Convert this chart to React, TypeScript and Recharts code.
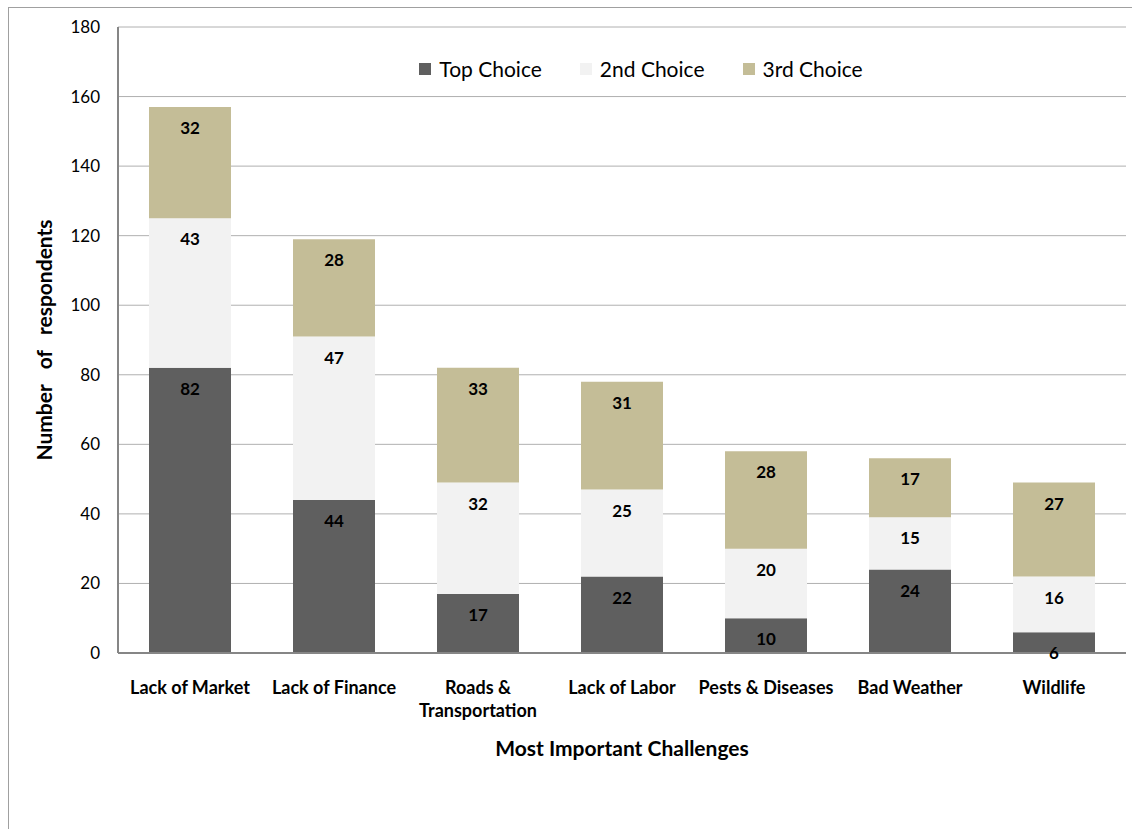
import { BarChart, Bar, XAxis, YAxis, CartesianGrid, Legend, LabelList } from "recharts";

const categories = [
  "Lack of Market",
  "Lack of Finance",
  "Roads & Transportation",
  "Lack of Labor",
  "Pests & Diseases",
  "Bad Weather",
  "Wildlife",
];
const topChoice = [82, 44, 17, 22, 10, 24, 6];
const secondChoice = [43, 47, 32, 25, 20, 15, 16];
const thirdChoice = [32, 28, 33, 31, 28, 17, 27];
const yTicks = [0, 20, 40, 60, 80, 100, 120, 140, 160, 180];

const series = [
  { key: "top", name: "Top Choice", color: "#5f5f5f" },
  { key: "second", name: "2nd Choice", color: "#f2f2f2" },
  { key: "third", name: "3rd Choice", color: "#c4bd97" },
];

const data = categories.map((name, i) => ({
  name,
  top: topChoice[i],
  second: secondChoice[i],
  third: thirdChoice[i],
}));

const FONT = "Lato, 'Open Sans', sans-serif";

// two-line label for "Roads & Transportation", single line otherwise
function CategoryTick(props: any) {
  const { x, y, payload } = props;
  const lines =
    payload.value === "Roads & Transportation" ? ["Roads &", "Transportation"] : [payload.value];
  return (
    <text x={x} y={y} textAnchor="middle" fontFamily={FONT} fontSize={18} fontWeight="bold" fill="#000">
      {lines.map((l, i) => (
        <tspan key={i} x={x} dy={i === 0 ? 33 : 23}>
          {l}
        </tspan>
      ))}
    </text>
  );
}

function LegendBox() {
  return (
    <div style={{ display: "flex", justifyContent: "center", gap: 38, fontFamily: FONT, fontSize: 21, color: "#000" }}>
      {series.map((s) => (
        <div key={s.key} style={{ display: "flex", alignItems: "center" }}>
          <span style={{ width: 12, height: 12, background: s.color, marginRight: 8, display: "inline-block" }} />
          <span>{s.name}</span>
        </div>
      ))}
    </div>
  );
}

export default function App() {
  return (
    <div
      style={{
        position: "absolute",
        left: 8,
        top: 7,
        width: 1123,
        height: 821,
        borderTop: "1px solid #a0a0a0",
        borderLeft: "1px solid #a0a0a0",
        overflow: "hidden",
        background: "#fff",
      }}
    >
      <BarChart
        width={1123}
        height={821}
        data={data}
        margin={{ top: 19, right: 6, bottom: 0, left: 0 }}
        style={{ fontFamily: FONT }}
      >
        <CartesianGrid vertical={false} stroke="#b0b0b0" strokeWidth={1} />
        <XAxis
          dataKey="name"
          height={176}
          interval={0}
          tickLine={false}
          axisLine={{ stroke: "#868686", strokeWidth: 2 }}
          tick={<CategoryTick />}
          label={{
            value: "Most Important Challenges",
            position: "insideTop",
            offset: 88,
            fontFamily: FONT,
            fontSize: 21,
            fontWeight: "bold",
            fill: "#000",
          }}
        />
        <YAxis
          width={109}
          domain={[0, 180]}
          ticks={yTicks}
          interval={0}
          tickLine={false}
          tickMargin={12}
          axisLine={{ stroke: "#868686", strokeWidth: 2 }}
          tick={{ fontFamily: FONT, fontSize: 17, fill: "#000" }}
          label={{
            value: "Number\u00a0\u00a0\u00a0of\u00a0\u00a0\u00a0respondents",
            angle: -90,
            position: "center",
            dx: -19,
            fontFamily: FONT,
            fontSize: 21,
            fontWeight: "bold",
            fill: "#000",
          }}
        />
        <Legend
          verticalAlign="middle"
          layout="horizontal"
          content={<LegendBox />}
          wrapperStyle={{ top: 48, left: 128, width: 1008 }}
        />
        {series.map((s) => (
          <Bar key={s.key} dataKey={s.key} name={s.name} stackId="a" fill={s.color} barSize={82} isAnimationActive={false}>
            <LabelList
              dataKey={s.key}
              position="insideTop"
              offset={15}
              fontFamily={FONT}
              fontSize={17}
              fontWeight="bold"
              fill="#000"
            />
          </Bar>
        ))}
      </BarChart>
    </div>
  );
}
